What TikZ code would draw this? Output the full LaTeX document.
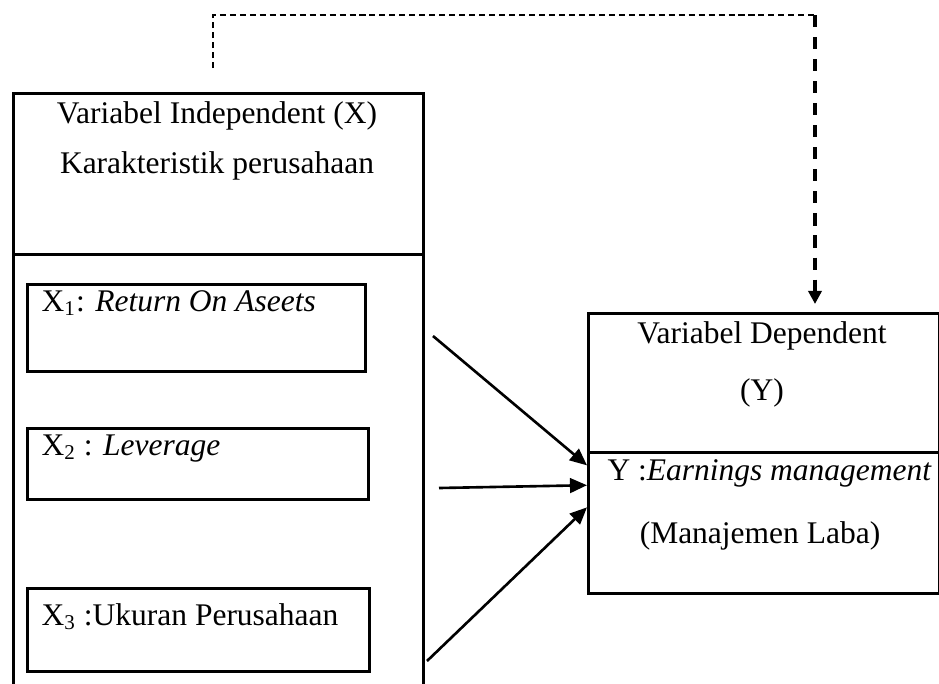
\documentclass[tikz,border=0pt]{standalone}
\usepackage{fontspec}
\setmainfont{Liberation Serif}
\usetikzlibrary{arrows.meta}
\def\pxu{0.381pt}

\begin{document}
\begin{tikzpicture}[x=\pxu, y=-\pxu, font=\fontsize{12}{14}\selectfont]
% Define styles
\tikzstyle{box} = [rectangle, draw=black, line width=1pt, anchor=north west, inner sep=0pt]
\tikzstyle{txt} = [inner sep=0pt, anchor=base]
\tikzstyle{ltxt} = [inner sep=0pt, anchor=base west]
\tikzstyle{arrow} = [line width=1pt, -{Triangle[length=6.5pt, width=5.6pt]}]
\tikzstyle{fbline} = [line width=0.45pt, dash pattern=on 2.3pt off 1.5pt]
\tikzstyle{fbarrow} = [line width=1.3pt, dash pattern=on 4.6pt off 3.8pt, -{Triangle[length=5pt, width=5pt]}]
\useasboundingbox (0,0) rectangle (939,683);
% Boxes
\node (indephead) [box, minimum width={410*\pxu}, minimum height={161*\pxu}] at (12,92) {};
\node (indepbody) [box, minimum width={410*\pxu}, minimum height={460*\pxu}] at (12,253) {};
\node (x1) [box, minimum width={338*\pxu}, minimum height={87*\pxu}] at (26,283) {};
\node (x2) [box, minimum width={341*\pxu}, minimum height={71*\pxu}] at (26,427) {};
\node (x3) [box, minimum width={342*\pxu}, minimum height={83*\pxu}] at (26,587) {};
\node (dephead) [box, minimum width={351*\pxu}, minimum height={139*\pxu}] at (587,312) {};
\node (depbody) [box, minimum width={351*\pxu}, minimum height={141*\pxu}] at (587,451) {};
% Texts
\node (indeptitle) [txt] at (217,123) {Variabel Independent (X)};
\node (indepsub) [txt] at (217,173) {Karakteristik perusahaan};
\node (x1txt) [ltxt] at (41,311) {X\textsubscript{1}: \textit{Return On Aseets}};
\node (x2txt) [ltxt] at (41,455) {X\textsubscript{2} : \textit{Leverage}};
\node (x3txt) [ltxt] at (41,625) {X\textsubscript{3} :Ukuran Perusahaan};
\node (deptitle) [txt] at (762,343) {Variabel Dependent};
\node (depsub) [txt] at (762,400) {(Y)};
\node (ytxt) [ltxt] at (607,480) {Y :\textit{Earnings management}};
\node (ysub) [txt] at (760,543) {(Manajemen Laba)};
% Arrows
\coordinate (s1) at (433,336);
\coordinate (s2) at (439,488);
\coordinate (s3) at (427,661);
\draw [arrow] (s1) -- (depbody.162);
\draw [arrow] (s2) -- (depbody.168);
\draw [arrow] (s3) -- (depbody.175);
% Dashed link
\coordinate (fbstart) at (213,68);
\coordinate (fbcorner) at (815,15);
\draw [fbline] (fbstart) |- (fbcorner);
\draw [fbarrow, shorten >={8*\pxu}] (fbcorner) -- (fbcorner |- dephead.north);
\end{tikzpicture}
\end{document}
